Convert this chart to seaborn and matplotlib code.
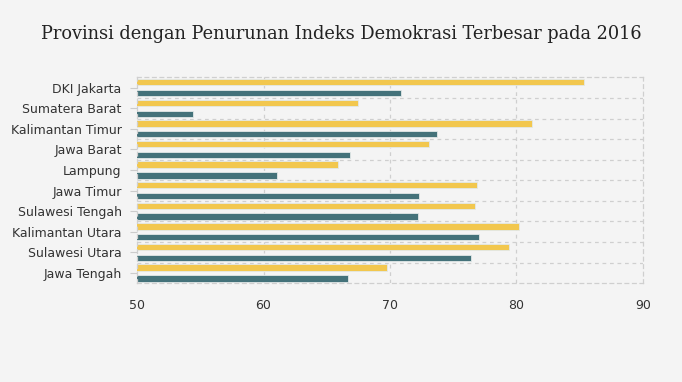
import matplotlib
matplotlib.use("Agg")
import matplotlib.pyplot as plt
import seaborn as sns
import pandas as pd
import numpy as np

provinces = ["DKI Jakarta", "Sumatera Barat", "Kalimantan Timur", "Jawa Barat", "Lampung",
             "Jawa Timur", "Sulawesi Tengah", "Kalimantan Utara", "Sulawesi Utara", "Jawa Tengah"]
idx_2015 = [85.3, 67.5, 81.2, 73.1, 65.9, 76.9, 76.7, 80.2, 79.4, 69.8]
idx_2016 = [70.9, 54.4, 73.7, 66.8, 61.1, 72.3, 72.2, 77.0, 76.4, 66.7]
years = ["2015", "2016"]
xticks = [50, 60, 70, 80, 90]

df = pd.DataFrame({
    "Provinsi": provinces * 2,
    "Tahun": [years[0]] * len(provinces) + [years[1]] * len(provinces),
    "Indeks": idx_2015 + idx_2016,
})

sns.set_theme(style="white")
bg = "#f4f4f4"
fig = plt.figure(figsize=(6.82, 3.82), dpi=100, facecolor=bg)
ax = fig.add_axes([0.2009, 0.2584, 0.7419, 0.5392], facecolor=bg)

sns.barplot(data=df, y="Provinsi", x="Indeks", hue="Tahun", orient="h",
            palette=["#f2c74e", "#44727a"], saturation=1, width=1.06, gap=0.42,
            edgecolor="#e2e8e8", linewidth=0.6, legend=False, ax=ax,
            order=provinces, hue_order=years)

ax.set_xlim(50, 90)
ax.set_ylim(len(provinces) - 0.5, -0.5)
ax.set_xticks(xticks)
ax.set_xticklabels([str(t) for t in xticks])
ax.set_xlabel("")
ax.set_ylabel("")

grid_kw = dict(color="#cfcfcf", linestyle=(0, (3, 3)), linewidth=0.9, zorder=0)
for x in xticks[1:-1]:
    ax.axvline(x, **grid_kw)
for y in np.arange(0.5, len(provinces) - 0.5, 1):
    ax.axhline(y, **grid_kw)
ax.set_axisbelow(True)
for s in ax.spines.values():
    s.set_visible(True)
    s.set_color("#cfcfcf")
    s.set_linestyle((0, (3, 3)))
    s.set_linewidth(0.9)

ax.tick_params(axis="y", which="major", length=5, width=0.8, color="#cccccc",
               labelsize=9, labelcolor="#333333", pad=6, left=True)
ax.tick_params(axis="x", which="major", length=0, labelsize=9, labelcolor="#333333", pad=11)

fig.text(0.5, 0.912, "Provinsi dengan Penurunan Indeks Demokrasi Terbesar pada 2016",
         ha="center", va="center", fontsize=12.8, color="#222222", family="DejaVu Serif")

fig.savefig("out.png", dpi=100, facecolor=bg)
